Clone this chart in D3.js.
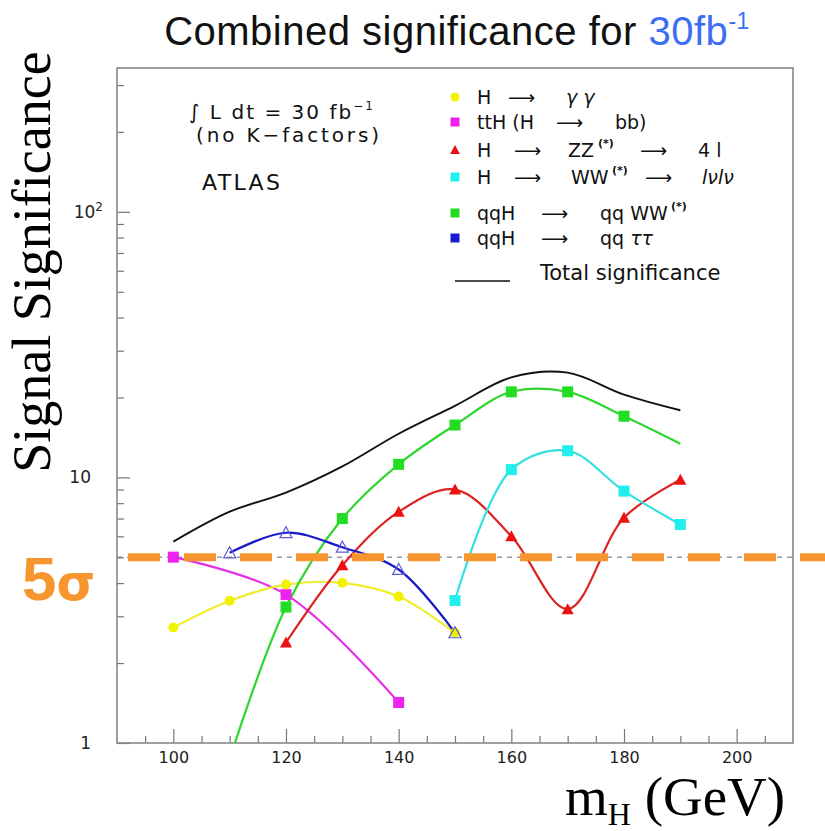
<!DOCTYPE html>
<html><head><meta charset="utf-8">
<script src="https://cdn.jsdelivr.net/npm/d3@7"></script>
<style>body{margin:0;background:#fff}svg{display:block}</style>
</head><body>
<svg id="chart" width="825" height="831"></svg>
<script>
// ---- data ----
const ggMass = [100, 110, 120, 130, 140, 150];
const ggValues = [2.72, 3.43, 3.95, 4.01, 3.56, 2.60];

const ttHMass = [100, 120, 140];
const ttHValues = [5.01, 3.62, 1.42];

const zzMass = [120, 130, 140, 150, 160, 170, 180, 190];
const zzValues = [2.39, 4.67, 7.42, 9.0, 6.0, 3.19, 7.05, 9.8];

const wwMass = [150, 160, 170, 180, 190];
const wwValues = [3.44, 10.7, 12.6, 8.88, 6.65];

const vbfWWMass = [110, 120, 130, 140, 150, 160, 170, 180, 190];
const vbfWWValues = [0.87, 3.25, 7.0, 11.2, 15.75, 21.0, 21.0, 17.0, 13.4];
const vbfWWMarked = [false, true, true, true, true, true, true, true, false];

const vbfTauMass = [110, 120, 130, 140, 150];
const vbfTauValues = [5.2, 6.19, 5.46, 4.5, 2.6];

const totalMass = [100, 110, 120, 130, 140, 150, 160, 170, 180, 190];
const totalValues = [5.73, 7.43, 8.77, 11.0, 14.6, 18.6, 23.8, 24.8, 20.5, 17.9];

const fiveSigma = 5;
const xDomain = [90, 210];
const yDomain = [1, 348];
const xMajorTicks = [100, 120, 140, 160, 180, 200];
const yMajorTicks = [1, 10, 100];

// ---- layout ----
const svg = d3.select("#chart");
const L = 117, R = 793, T = 68, B = 743;
const x = d3.scaleLinear().domain(xDomain).range([L, R]);
const y = d3.scaleLog().domain(yDomain).range([B, T]);
const SANS = "'DejaVu Sans', 'Liberation Sans', Arial, sans-serif";

// Title
const title = svg.append("text").attr("x", 457).attr("y", 45).attr("text-anchor", "middle")
  .attr("font-family", "'Liberation Sans', Arial, sans-serif").attr("font-size", 40)
  .attr("letter-spacing", 0.5).attr("fill", "#111");
title.append("tspan").text("Combined significance for ");
title.append("tspan").attr("fill", "#3b6ef2").text("30fb");
title.append("tspan").attr("fill", "#3b6ef2").attr("font-size", 23).attr("dy", -16).text("-1");

// clip
svg.append("clipPath").attr("id", "clip").append("rect")
  .attr("x", L).attr("y", T).attr("width", R - L).attr("height", B - T);

// 5 sigma grey dashed reference
svg.append("line").attr("x1", L).attr("x2", R).attr("y1", y(fiveSigma)).attr("y2", y(fiveSigma))
  .attr("stroke", "#999").attr("stroke-width", 1.5).attr("stroke-dasharray", "5,5");

// Axes (ticks inward)
const styleTicks = g => { g.select(".domain").remove(); g.selectAll("line").attr("stroke", "#777").attr("stroke-width", 1.2); };
const xMinor = d3.range(95, 210, 5).filter(v => !xMajorTicks.includes(v));
svg.append("g").attr("transform", `translate(0,${B})`)
  .call(d3.axisBottom(x).tickValues(xMinor).tickSize(-7).tickFormat(""))
  .call(styleTicks).call(g => g.selectAll("text").remove());
const xAxis = svg.append("g").attr("transform", `translate(0,${B})`)
  .call(d3.axisBottom(x).tickValues(xMajorTicks).tickSize(-14).tickPadding(9))
  .call(styleTicks);
xAxis.selectAll("text").attr("font-family", SANS).attr("font-size", 16).attr("fill", "#222");

const yMinor = [];
[1, 10, 100].forEach(d => { for (let k = 2; k <= 9; k++) if (d * k <= yDomain[1]) yMinor.push(d * k); });
svg.append("g").attr("transform", `translate(${L},0)`)
  .call(d3.axisLeft(y).tickValues(yMinor).tickSize(-7).tickFormat(""))
  .call(styleTicks).call(g => g.selectAll("text").remove());
const yAxis = svg.append("g").attr("transform", `translate(${L},0)`)
  .call(d3.axisLeft(y).tickValues(yMajorTicks).tickSize(-13).tickPadding(26).tickFormat(""))
  .call(styleTicks);
yAxis.selectAll(".tick text").each(function (d) {
  const t = d3.select(this).attr("font-family", SANS).attr("font-size", 17).attr("fill", "#222");
  if (d === 100) {
    t.attr("x", -14);
    t.append("tspan").text("10");
    t.append("tspan").attr("font-size", 12).attr("dy", "-0.6em").text("2");
  } else {
    t.text(d3.format("d")(d));
  }
});

// frame
svg.append("rect").attr("x", L).attr("y", T).attr("width", R - L).attr("height", B - T)
  .attr("fill", "none").attr("stroke", "#888").attr("stroke-width", 1.6);

// series
const line = d3.line().x(d => x(d[0])).y(d => y(d[1])).curve(d3.curveCatmullRom.alpha(0.5));
const plot = svg.append("g").attr("clip-path", "url(#clip)");
const zip = (a, b) => a.map((v, i) => [v, b[i]]);

const series = [
  { m: totalMass, v: totalValues, color: "#111111", marker: null, w: 1.9 },
  { m: ttHMass, v: ttHValues, color: "#e52ee5", marker: "square", fill: "#ee22ee" },
  { m: ggMass, v: ggValues, color: "#eeee30", marker: "circle", fill: "#f2f200" },
  { m: vbfWWMass, v: vbfWWValues, color: "#2ed62e", marker: "square", fill: "#22dd22", marked: vbfWWMarked },
  { m: zzMass, v: zzValues, color: "#dd2222", marker: "triangle", fill: "#ee1111" },
  { m: wwMass, v: wwValues, color: "#33e0e0", marker: "square", fill: "#22eeee" },
  { m: vbfTauMass, v: vbfTauValues, color: "#1a1ac8", marker: "opentri", fill: "none" }
];

function drawMarker(g, type, fill, cx, cy, s) {
  if (type === "square") {
    g.append("rect").attr("x", cx - s / 2).attr("y", cy - s / 2).attr("width", s).attr("height", s).attr("fill", fill);
  } else if (type === "circle") {
    g.append("circle").attr("cx", cx).attr("cy", cy).attr("r", s / 2).attr("fill", fill);
  } else if (type === "triangle") {
    g.append("path").attr("d", `M${cx},${cy - s * 0.55}L${cx + s * 0.55},${cy + s * 0.45}L${cx - s * 0.55},${cy + s * 0.45}Z`).attr("fill", fill);
  } else if (type === "opentri") {
    g.append("path").attr("d", `M${cx},${cy - s * 0.55}L${cx + s * 0.55},${cy + s * 0.45}L${cx - s * 0.55},${cy + s * 0.45}Z`)
      .attr("fill", "none").attr("stroke", "#5a5ad8").attr("stroke-width", 1.2);
  }
}

series.forEach(s => {
  const pts = zip(s.m, s.v);
  plot.append("path").attr("d", line(pts)).attr("fill", "none").attr("stroke", s.color).attr("stroke-width", s.w || 2.2);
});
series.forEach(s => {
  if (!s.marker) return;
  zip(s.m, s.v).forEach((p, i) => {
    if (s.marked && !s.marked[i]) return;
    drawMarker(plot, s.marker, s.fill, x(p[0]), y(p[1]), s.marker === "circle" ? 10 : 11);
  });
});

// 5 sigma orange dashed line and label
svg.append("line").attr("x1", 128).attr("x2", 825).attr("y1", y(fiveSigma)).attr("y2", y(fiveSigma))
  .attr("stroke", "#f7962f").attr("stroke-width", 8).attr("stroke-dasharray", "32,24");
const sig = svg.append("text").attr("x", 22).attr("y", 600).attr("font-family", "'Liberation Sans', Arial, sans-serif")
  .attr("font-weight", "bold").attr("font-size", 62).attr("fill", "#f7962f");
sig.append("tspan").text("5");
sig.append("tspan").attr("font-family", "'DejaVu Sans', sans-serif").attr("font-size", 50).text("σ");

// Upper-left annotation
const ann = svg.append("g").attr("font-family", SANS).attr("fill", "#111");
const a1 = ann.append("text").attr("x", 189).attr("y", 119).attr("font-size", 20)
  .attr("textLength", 184).attr("lengthAdjust", "spacing");
a1.append("tspan").attr("font-style", "italic").text("∫");
a1.append("tspan").text(" L dt = 30 fb");
a1.append("tspan").attr("font-size", 12).attr("dy", -9).text("−1");
ann.append("text").attr("x", 196).attr("y", 142).attr("font-size", 20)
  .attr("textLength", 183).attr("lengthAdjust", "spacing").text("(no K−factors)");
ann.append("text").attr("x", 202).attr("y", 190).attr("font-size", 22)
  .attr("textLength", 78).attr("lengthAdjust", "spacing").text("ATLAS");

// Legend
const legendRows = [
  { marker: "circle", fill: "#f2f200", y: 97, parts: [["H", 477], ["⟶", 508], ["γ γ", 566, "i"]] },
  { marker: "square", fill: "#ee22ee", y: 122, parts: [["ttH (H", 477], ["⟶", 556], ["bb)", 615]] },
  { marker: "triangle", fill: "#ee1111", y: 150, parts: [["H", 477], ["⟶", 514], ["ZZ", 568], ["(*)", 598, "s"], ["⟶", 640], ["4 l", 698]] },
  { marker: "square", fill: "#22eeee", y: 177, parts: [["H", 477], ["⟶", 514], ["WW", 571], ["(*)", 612, "s"], ["⟶", 645], ["lνlν", 702, "i"]] },
  { marker: "square", fill: "#22dd22", y: 213, parts: [["qqH", 477], ["⟶", 541], ["qq WW", 600], ["(*)", 671, "s"]] },
  { marker: "square", fill: "#1a1ad0", y: 238, parts: [["qqH", 477], ["⟶", 541], ["qq ττ", 600, "ti"]] }
];
const leg = svg.append("g").attr("font-family", SANS).attr("fill", "#111");
legendRows.forEach(r => {
  drawMarker(leg, r.marker, r.fill, 455, r.y, 9);
  r.parts.forEach(p => {
    const t = leg.append("text").attr("x", p[1]).attr("y", r.y + 7).attr("font-size", 19).text(p[0]);
    if (p[2] === "s") t.attr("font-size", 11).attr("y", r.y - 3).attr("font-weight", "bold");
    if (p[2] === "i") t.attr("font-style", "italic");
    if (p[2] === "ti") { t.text(""); t.append("tspan").text("qq "); t.append("tspan").attr("font-style", "italic").text("ττ"); }
  });
});
leg.append("line").attr("x1", 455).attr("x2", 510).attr("y1", 281).attr("y2", 281).attr("stroke", "#111").attr("stroke-width", 1.5);
leg.append("text").attr("x", 540).attr("y", 280).attr("font-size", 21).text("Total significance");

// Axis titles
svg.append("text").attr("transform", "translate(50,262) rotate(-90)").attr("text-anchor", "middle")
  .attr("font-family", "'Liberation Serif', 'Times New Roman', serif").attr("font-size", 54).attr("fill", "#000")
  .text("Signal Significance");
const xt = svg.append("text").attr("x", 565).attr("y", 815)
  .attr("font-family", "'Liberation Serif', 'Times New Roman', serif").attr("font-size", 55).attr("fill", "#000");
xt.append("tspan").text("m");
xt.append("tspan").attr("font-size", 32).attr("dy", 10).text("H");
xt.append("tspan").attr("dy", -10).text(" (GeV)");
</script>
</body></html>
